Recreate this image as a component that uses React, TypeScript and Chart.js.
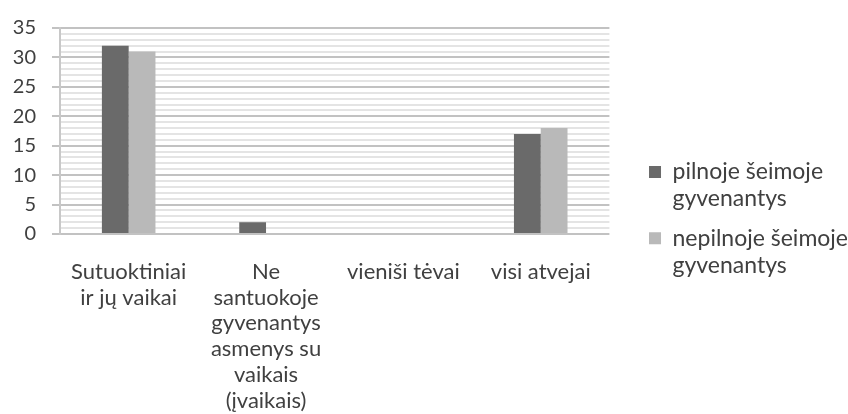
import { useEffect, useRef } from 'react';
import { Chart, registerables } from 'chart.js';

Chart.register(...registerables);

const categories: string[][] = [
  ['Sutuoktiniai', 'ir jų vaikai'],
  ['Ne', 'santuokoje', 'gyvenantys', 'asmenys su', 'vaikais', '(įvaikais)'],
  ['vieniši tėvai'],
  ['visi atvejai'],
];
const seriesNames: string[][] = [
  ['pilnoje šeimoje', 'gyvenantys'],
  ['nepilnoje šeimoje', 'gyvenantys'],
];
const pilnoje = [32, 2, 0, 17];
const nepilnoje = [31, 0, 0, 18];
const yMin = 0;
const yMax = 35;
const yMajorStep = 5;

const FONT = 'Lato, "Open Sans", sans-serif';
const TEXT = '#404040';
const COLORS = ['#6a6a6a', '#b9b9b9'];

export default function App() {
  const ref = useRef<HTMLCanvasElement | null>(null);

  useEffect(() => {
    if (!ref.current) return;
    const chart = new Chart(ref.current, {
      type: 'bar',
      data: {
        labels: categories,
        datasets: [
          { label: seriesNames[0].join(' '), data: pilnoje, backgroundColor: COLORS[0], borderWidth: 0 },
          { label: seriesNames[1].join(' '), data: nepilnoje, backgroundColor: COLORS[1], borderWidth: 0 },
        ],
      },
      options: {
        animation: false,
        responsive: true,
        maintainAspectRatio: false,
        datasets: { bar: { categoryPercentage: 0.39, barPercentage: 1 } },
        layout: { padding: { top: 20, left: 0, right: -10, bottom: -7 } },
        scales: {
          x: {
            grid: { display: false },
            border: { display: false },
            ticks: {
              autoSkip: false,
              maxRotation: 0,
              minRotation: 0,
              padding: 17,
              color: TEXT,
              font: { family: FONT, size: 22, lineHeight: 1.17 },
            },
            afterFit: (s: any) => { s.height = 187; },
          },
          y: {
            min: yMin,
            max: yMax,
            ticks: {
              stepSize: 1,
              autoSkip: false,
              padding: 16,
              color: TEXT,
              font: { family: FONT, size: 20 },
              callback: (v: any) => (Number(v) % yMajorStep === 0 ? String(v) : ''),
            },
            grid: {
              color: (c: any) => (c.tick && c.tick.value % yMajorStep === 0 ? '#c2c2c2' : '#e4e4e4'),
              lineWidth: 2,
              tickLength: 8,
              tickColor: (c: any) => (c.tick && c.tick.value % yMajorStep === 0 ? '#c2c2c2' : 'rgba(0,0,0,0)'),
            },
            border: { color: '#c8c8c8', width: 2 },
            afterFit: (s: any) => { s.width = 60; },
          },
          spacer: {
            position: 'right',
            display: true,
            grid: { display: false, drawTicks: false },
            ticks: { display: false },
            border: { display: false },
            afterFit: (s: any) => { s.width = 27; },
          },
        } as any,
        plugins: {
          tooltip: { enabled: false },
          legend: {
            position: 'right',
            align: 'center',
            maxWidth: 320,
            labels: {
              boxWidth: 12,
              boxHeight: 12,
              padding: 12.6,
              color: TEXT,
              font: { family: FONT, size: 23, lineHeight: 1.17 },
              generateLabels: (ch: any) =>
                ch.data.datasets.map((ds: any, i: number) => ({
                  text: seriesNames[i],
                  fillStyle: ds.backgroundColor,
                  strokeStyle: ds.backgroundColor,
                  lineWidth: 0,
                  hidden: false,
                  datasetIndex: i,
                  fontColor: TEXT,
                })),
            },
          } as any,
        },
      },
    });
    return () => chart.destroy();
  }, []);

  return (
    <div style={{ position: 'absolute', left: 0, top: 0, width: 848, height: 414, background: '#fff' }}>
      <canvas ref={ref} />
    </div>
  );
}
